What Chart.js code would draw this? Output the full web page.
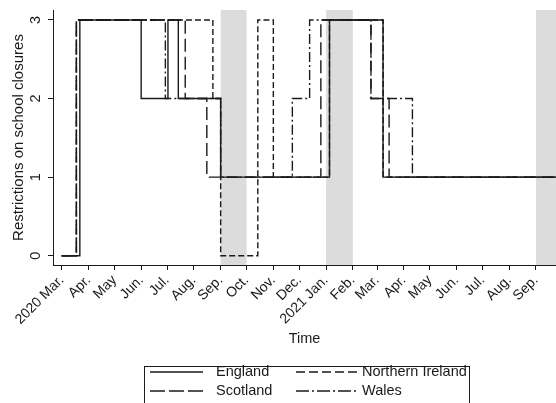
<!DOCTYPE html>
<html>
<head>
<meta charset="utf-8">
<script src="https://cdn.jsdelivr.net/npm/chart.js@4/dist/chart.umd.min.js"></script>
<style>
  body { margin: 0; background: #fff; }
</style>
</head>
<body>
<canvas id="chart" width="556" height="403"></canvas>
<script>
// x values are days counted from 1 March 2020
const monthTicks = [0, 31, 61, 92, 122, 153, 184, 214, 245, 275, 306, 337, 365, 396, 426, 457, 487, 518, 549];
const monthLabels = ['2020 Mar.', 'Apr.', 'May', 'Jun.', 'Jul.', 'Aug.', 'Sep.', 'Oct.', 'Nov.', 'Dec.',
                     '2021 Jan.', 'Feb.', 'Mar.', 'Apr.', 'May', 'Jun.', 'Jul.', 'Aug.', 'Sep.'];
const yTicks = [0, 1, 2, 3];

// each series: day a level starts, and the level
const englandDays = [0, 21, 92, 123, 135, 184, 310, 372, 572];
const englandValues = [0, 3, 2, 3, 2, 1, 3, 1, 1];
const scotlandDays = [0, 17, 143, 168, 300, 358, 379, 572];
const scotlandValues = [0, 3, 2, 1, 3, 2, 1, 1];
const nirelandDays = [0, 17, 175, 184, 227, 245, 310, 372, 572];
const nirelandValues = [0, 3, 2, 0, 3, 1, 3, 1, 1];
const walesDays = [0, 17, 120, 184, 267, 287, 358, 406, 572];
const walesValues = [0, 3, 2, 1, 2, 3, 2, 1, 1];

// grey shaded periods
const shadeStart = [184, 306, 549];
const shadeEnd = [214, 337, 600];

const FONT = "'Liberation Sans', Arial, Helvetica, sans-serif";
const INK = '#1a1a1a';

function points(days, values) {
    return days.map((d, i) => ({ x: d, y: values[i] }));
}

const series = [
    { label: 'England', data: points(englandDays, englandValues), dash: [], legendDash: [] },
    { label: 'Scotland', data: points(scotlandDays, scotlandValues), dash: [13, 5], legendDash: [15, 4] },
    { label: 'Northern Ireland', data: points(nirelandDays, nirelandValues), dash: [6, 3], legendDash: [9, 4] },
    { label: 'Wales', data: points(walesDays, walesValues), dash: [10, 3, 2, 3], legendDash: [13, 3, 2, 3] }
];

const shading = {
    id: 'shading',
    beforeDraw(chart) {
        const { ctx, chartArea, scales: { x } } = chart;
        ctx.save();
        ctx.fillStyle = '#dcdcdc';
        shadeStart.forEach((s, i) => {
            const x0 = Math.max(x.getPixelForValue(s), chartArea.left);
            const x1 = Math.min(x.getPixelForValue(shadeEnd[i]), chartArea.right);
            ctx.fillRect(x0, chartArea.top, x1 - x0, chartArea.bottom - chartArea.top);
        });
        ctx.restore();
    }
};

// boxed two-column legend under the axis title
const boxLegend = {
    id: 'boxLegend',
    afterDraw(chart) {
        const ctx = chart.ctx;
        ctx.save();
        ctx.strokeStyle = INK;
        ctx.lineWidth = 1;
        ctx.strokeRect(144.5, 366.5, 325, 60);
        const cols = [{ x0: 150, x1: 203, tx: 216 }, { x0: 296, x1: 357, tx: 362 }];
        const rows = [372, 391];
        const order = [0, 2, 1, 3];
        ctx.font = '14.5px ' + FONT;
        ctx.textBaseline = 'middle';
        ctx.fillStyle = INK;
        order.forEach((si, k) => {
            const c = cols[k % 2];
            const y = rows[Math.floor(k / 2)];
            ctx.beginPath();
            ctx.setLineDash(series[si].legendDash);
            ctx.lineWidth = 1.3;
            ctx.moveTo(c.x0, y);
            ctx.lineTo(c.x1, y);
            ctx.stroke();
            ctx.setLineDash([]);
            ctx.fillText(series[si].label, c.tx, y);
        });
        ctx.restore();
    }
};

const ctx = document.getElementById('chart').getContext('2d');
new Chart(ctx, {
    type: 'line',
    data: {
        datasets: series.map(s => ({
            label: s.label,
            data: s.data,
            stepped: 'before',
            borderColor: INK,
            borderWidth: 1.4,
            borderDash: s.dash,
            pointRadius: 0,
            fill: false
        }))
    },
    options: {
        responsive: false,
        animation: false,
        layout: { padding: { top: 10, right: 0, bottom: 37, left: 0 } },
        plugins: {
            legend: { display: false },
            tooltip: { enabled: false }
        },
        scales: {
            x: {
                type: 'linear',
                min: -10.07,
                max: 572.2,
                afterBuildTicks: scale => { scale.ticks = monthTicks.map(v => ({ value: v })); },
                afterFit: scale => {
                    scale.height = 101;
                    scale.paddingLeft = 0;
                    scale.paddingRight = 0;
                },
                ticks: {
                    autoSkip: false,
                    minRotation: 45,
                    maxRotation: 45,
                    padding: 2,
                    color: INK,
                    font: { family: FONT, size: 14 },
                    callback: (v, i) => monthLabels[i]
                },
                grid: { drawOnChartArea: false, drawTicks: true, tickLength: 5, color: INK },
                border: { display: true, color: INK, width: 1 },
                title: {
                    display: true,
                    text: 'Time',
                    color: INK,
                    font: { family: FONT, size: 14.5 },
                    padding: { top: 0, bottom: 18 }
                }
            },
            y: {
                min: -0.118,
                max: 3.127,
                afterBuildTicks: scale => { scale.ticks = yTicks.map(v => ({ value: v })); },
                afterFit: scale => {
                    scale.width = 53;
                    scale.paddingTop = 0;
                    scale.paddingBottom = 0;
                },
                ticks: {
                    minRotation: 90,
                    maxRotation: 90,
                    crossAlign: 'center',
                    padding: 8,
                    color: INK,
                    font: { family: FONT, size: 14.5 }
                },
                grid: { drawOnChartArea: false, drawTicks: true, tickLength: 5, color: INK },
                border: { display: true, color: INK, width: 1 },
                title: {
                    display: true,
                    text: 'Restrictions on school closures',
                    color: INK,
                    font: { family: FONT, size: 15 },
                    padding: { top: 10, bottom: 0 }
                }
            }
        }
    },
    plugins: [shading, boxLegend]
});
</script>
</body>
</html>
